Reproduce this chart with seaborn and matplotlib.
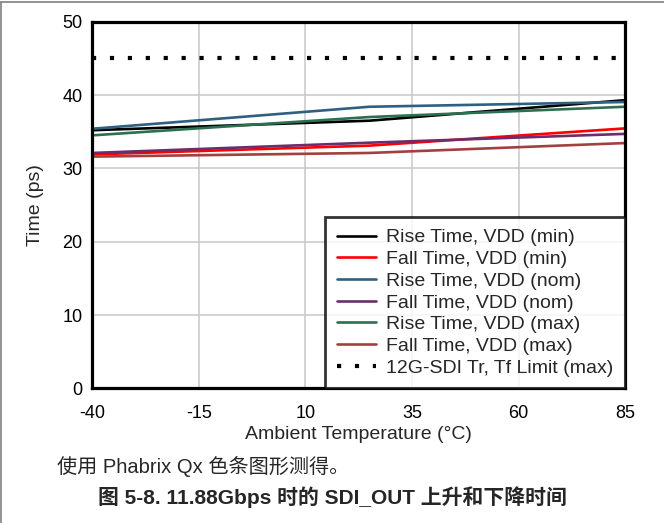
import pandas as pd
import matplotlib.pyplot as plt
import seaborn as sns
from matplotlib.lines import Line2D

# --- data ---
temps = [-40, 25, 85]
rise_min = [35.2, 36.5, 39.3]
fall_min = [31.9, 33.1, 35.45]
rise_nom = [35.4, 38.4, 39.05]
fall_nom = [32.1, 33.5, 34.7]
rise_max = [34.5, 37.0, 38.4]
fall_max = [31.6, 32.1, 33.45]
limit_temps = [-40, 85]
limit_vals = [45, 45]

series_names = ['Rise Time, VDD (min)', 'Fall Time, VDD (min)',
                'Rise Time, VDD (nom)', 'Fall Time, VDD (nom)',
                'Rise Time, VDD (max)', 'Fall Time, VDD (max)']
series_vals = [rise_min, fall_min, rise_nom, fall_nom, rise_max, fall_max]
limit_name = '12G-SDI Tr, Tf Limit (max)'
colors = ['#000000', '#FF0000', '#2F6080', '#6B2D6B', '#2C7050', '#A33F3F']

x_ticks = [-40, -15, 10, 35, 60, 85]
y_ticks = [0, 10, 20, 30, 40, 50]

caption = '使用 Phabrix Qx 色条图形测得。'
title = '图 5-8. 11.88Gbps 时的 SDI_OUT 上升和下降时间'

# long format for seaborn
df = pd.DataFrame([
    {'Temp': t, 'Time': v, 'Series': name}
    for name, vals in zip(series_names, series_vals)
    for t, v in zip(temps, vals)
])
df_lim = pd.DataFrame({'Temp': limit_temps, 'Time': limit_vals})

sns.set_style('white')
plt.rcParams['font.family'] = ['Liberation Sans', 'Noto Sans CJK SC', 'DejaVu Sans']

fig = plt.figure(figsize=(6.64, 5.23), dpi=100)
ax = fig.add_axes([0.139, 0.2575, 0.8025, 0.701])

sns.lineplot(data=df, x='Temp', y='Time', hue='Series', hue_order=series_names,
             palette=dict(zip(series_names, colors)), linewidth=1.9,
             legend=False, ax=ax, zorder=3)
sns.lineplot(data=df_lim, x='Temp', y='Time', color='black', linewidth=3.0,
             linestyle=(0, (1, 3.3)), dash_capstyle='butt', legend=False, ax=ax, zorder=3)

ax.set_xlim(-40, 85)
ax.set_ylim(0, 50)
ax.set_xticks(x_ticks)
ax.set_yticks(y_ticks)
ax.set_xticklabels([str(t) for t in x_ticks])
ax.tick_params(axis='both', length=0, labelsize=13, colors='black')
ax.tick_params(axis='x', pad=12)
ax.tick_params(axis='y', pad=7)
ax.grid(True, color='#C8C8C8', linewidth=1.1)
for sp in ax.spines.values():
    sp.set_color('black')
    sp.set_linewidth(2.3)
    sp.set_zorder(5)

ax.set_xlabel('Ambient Temperature (°C)', fontsize=14, labelpad=3)
ax.set_ylabel('Time (ps)', fontsize=14, labelpad=13)

# legend
handles = [Line2D([], [], color=c, linewidth=1.9) for c in colors]
handles.append(Line2D([], [], color='black', linewidth=3.0, linestyle=(0, (1, 3.3)),
                      dash_capstyle='butt'))
leg = ax.legend(handles, series_names + [limit_name], loc='lower right',
                fontsize=14, frameon=True, fancybox=False, borderaxespad=0,
                handlelength=2.0, handletextpad=0.55, labelspacing=0.21,
                borderpad=0.6)
leg.get_frame().set_edgecolor('black')
leg.get_frame().set_linewidth(2.0)
leg.set_zorder(6)

# captions below the chart
fig.text(57 / 664, 1 - 467 / 523, caption, fontsize=14.5, ha='left', va='center',
         family=['Liberation Sans', 'Noto Sans CJK SC'])
fig.text(0.5, 1 - 497 / 523, title, fontsize=15, fontweight='bold', ha='center',
         va='center', family=['Liberation Sans', 'Noto Sans CJK SC'])

# thin grey frame on left and top
fig.add_artist(Line2D([0.002, 0.002], [0, 0.996], color='#808080', linewidth=1.2,
                      transform=fig.transFigure))
fig.add_artist(Line2D([0.002, 1], [0.996, 0.996], color='#808080', linewidth=1.2,
                      transform=fig.transFigure))

fig.savefig('out.png', dpi=100)
